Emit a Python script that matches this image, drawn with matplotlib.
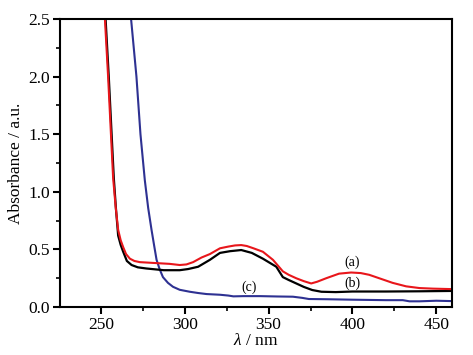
import matplotlib
matplotlib.use("Agg")
import matplotlib.pyplot as plt
from matplotlib.ticker import MultipleLocator

plt.rcParams["font.family"] = ["Liberation Serif", "DejaVu Serif"]
plt.rcParams["mathtext.fontset"] = "custom"
plt.rcParams["mathtext.it"] = "Liberation Serif:italic"
plt.rcParams["mathtext.rm"] = "Liberation Serif"

# curve (a), red
wl_a = [251, 252.4, 254.3, 256, 257.3, 258.8, 260.3, 261.8, 263.3, 265, 267.3, 270,
        273.2, 279, 285, 291, 297, 301, 305, 310, 315, 321, 326, 330, 333.7, 337, 341,
        346.6, 352.6, 358.5, 362, 366.5, 371, 375.4, 379, 384.3, 392, 399.2, 405, 410,
        416, 424, 432, 440, 448, 459]
abs_a = [2.9, 2.5, 2.0, 1.5, 1.12, 0.87, 0.67, 0.58, 0.52, 0.46, 0.42, 0.40,
         0.39, 0.385, 0.38, 0.375, 0.365, 0.37, 0.39, 0.43, 0.46, 0.51, 0.525, 0.535,
         0.538, 0.53, 0.51, 0.48, 0.41, 0.31, 0.28, 0.25, 0.225, 0.205, 0.22, 0.25, 0.29,
         0.30, 0.295, 0.28, 0.25, 0.21, 0.18, 0.165, 0.16, 0.156]

# curve (b), black
wl_b = [251.4, 252.8, 254.7, 256.4, 257.7, 259, 260.3, 261.8, 263.3, 265.5, 268.3, 272,
        277, 287.5, 297, 302, 308, 315, 321, 327, 333.7, 340, 346.6, 354.6, 358.5, 362,
        366.5, 371, 376, 381.5, 390, 400, 420, 440, 459]
abs_b = [2.9, 2.5, 2.0, 1.5, 1.12, 0.85, 0.62, 0.54, 0.48, 0.40, 0.365, 0.345,
         0.335, 0.32, 0.32, 0.33, 0.35, 0.41, 0.47, 0.485, 0.495, 0.47, 0.42, 0.35, 0.26,
         0.235, 0.205, 0.175, 0.148, 0.133, 0.13, 0.135, 0.135, 0.137, 0.14]

# curve (c), blue
wl_c = [267, 268, 271.2, 273.6, 276.2, 278.2, 280.2, 281.8, 283.2, 285, 287, 290, 293,
        297, 303, 308, 313, 321, 326, 329, 335, 345, 355, 364.5, 370, 374, 385, 400,
        420, 430, 434, 440, 450, 459]
abs_c = [2.9, 2.5, 2.0, 1.5, 1.10, 0.86, 0.67, 0.53, 0.41, 0.33, 0.26, 0.21, 0.176,
         0.15, 0.133, 0.122, 0.113, 0.107, 0.10, 0.093, 0.095, 0.095, 0.092, 0.09, 0.08,
         0.07, 0.068, 0.064, 0.06, 0.06, 0.05, 0.05, 0.055, 0.052]

labels = ["(a)", "(b)", "(c)"]
label_x = [400, 400, 338.5]
label_y = [0.385, 0.205, 0.176]

fig = plt.figure(figsize=(4.73, 3.55), dpi=100)
ax = fig.add_axes([0.1275, 0.135, 0.8275, 0.8115])

ax.plot(wl_c, abs_c, color="#2e3192", linewidth=1.5)
ax.plot(wl_b, abs_b, color="black", linewidth=1.6)
ax.plot(wl_a, abs_a, color="#e8161b", linewidth=1.5)

for text, x, y in zip(labels, label_x, label_y):
    ax.text(x, y, text, ha="center", va="center", fontsize=10)

ax.set_xlim(225.8, 459.2)
ax.set_ylim(0, 2.5)
ax.xaxis.set_major_locator(MultipleLocator(50))
ax.xaxis.set_minor_locator(MultipleLocator(25))
ax.yaxis.set_major_locator(MultipleLocator(0.5))
ax.yaxis.set_minor_locator(MultipleLocator(0.25))
ax.yaxis.set_major_formatter(plt.FuncFormatter(lambda v, p: f"{v:.1f}"))
ax.tick_params(which="major", direction="out", length=5, width=1.5, labelsize=12.5, pad=2.5)
ax.tick_params(which="minor", direction="out", length=3, width=1.2)
ax.tick_params(top=False, right=False)
for spine in ax.spines.values():
    spine.set_linewidth(1.5)

ax.set_xlabel(r"$\lambda$ / nm", fontsize=12.5, labelpad=0)
ax.set_ylabel("Absorbance / a.u.", fontsize=12.5, labelpad=3)

fig.savefig("out.png", dpi=100)
